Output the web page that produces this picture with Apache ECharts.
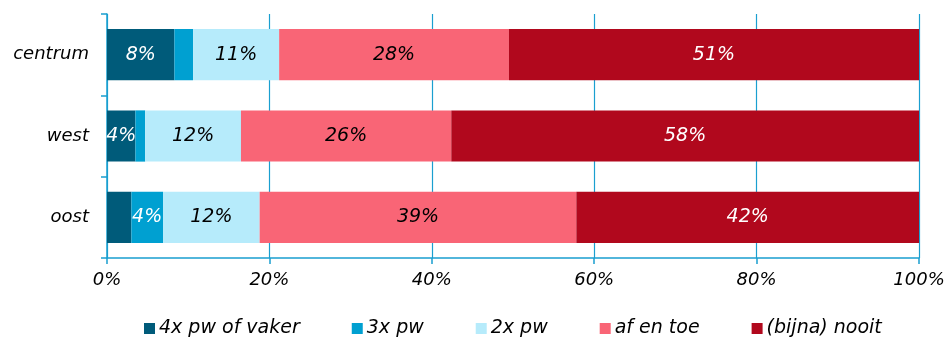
<!DOCTYPE html>
<html>
<head>
<meta charset="utf-8">
<script src="https://cdn.jsdelivr.net/npm/echarts@6/dist/echarts.min.js"></script>
<style>
  html, body { margin: 0; padding: 0; background: #fff; }
  #chart { width: 952px; height: 342px; }
</style>
</head>
<body>
<div id="chart"></div>
<script>
// Districts, top to bottom
const districts = ['centrum', 'west', 'oost'];

// Share of respondents per frequency class (%)
const perWeek4Plus = [8.3, 3.5, 3.0];
const perWeek3 = [2.3, 1.2, 3.9];
const perWeek2 = [10.6, 11.8, 11.9];
const nowAndThen = [28.3, 25.9, 39.0];
const hardlyEver = [50.5, 57.6, 42.2];

// Legend names and x-axis ticks
const seriesNames = ['4x pw of vaker', '3x pw', '2x pw', 'af en toe', '(bijna) nooit'];
const axisTicks = [0, 20, 40, 60, 80, 100];

const FONT = '"DejaVu Sans", Verdana, sans-serif';
const AXIS_BLUE = '#1a9fd0';

// Segments narrower than this stay unlabeled
const MIN_LABELED = 3.4;

const values = [perWeek4Plus, perWeek3, perWeek2, nowAndThen, hardlyEver];
const colors = ['#005b7a', '#00a0d1', '#b6ebfb', '#f96576', '#b1081d'];
const labelColors = ['#ffffff', '#ffffff', '#000000', '#000000', '#ffffff'];

const series = seriesNames.map((name, i) => ({
  name: name,
  type: 'bar',
  stack: 'total',
  barWidth: '63%',
  data: values[i],
  itemStyle: { color: colors[i] },
  label: {
    show: true,
    position: 'inside',
    color: labelColors[i],
    fontFamily: FONT,
    fontStyle: 'italic',
    fontSize: 19,
    formatter: p => (p.value < MIN_LABELED ? '' : Math.round(p.value) + '%')
  },
  emphasis: { disabled: true }
}));

const chart = echarts.init(document.getElementById('chart'), null, { renderer: 'canvas' });
chart.setOption({
  animation: false,
  backgroundColor: '#ffffff',
  grid: { left: 107, right: 33, top: 14, bottom: 84, containLabel: false },
  xAxis: {
    type: 'value',
    min: axisTicks[0],
    max: axisTicks[axisTicks.length - 1],
    interval: axisTicks[1] - axisTicks[0],
    axisLine: { show: true, lineStyle: { color: AXIS_BLUE, width: 1.5 } },
    axisTick: { show: true, length: 6, lineStyle: { color: AXIS_BLUE, width: 1.5 } },
    splitLine: { show: true, lineStyle: { color: AXIS_BLUE, width: 1.2 } },
    axisLabel: {
      margin: 13,
      color: '#000',
      fontFamily: FONT,
      fontStyle: 'italic',
      fontSize: 18,
      formatter: '{value}%'
    }
  },
  yAxis: {
    type: 'category',
    data: districts,
    inverse: true,
    axisLine: { show: true, lineStyle: { color: AXIS_BLUE, width: 1.5 } },
    axisTick: { show: true, length: 6, lineStyle: { color: AXIS_BLUE, width: 1.5 } },
    axisLabel: {
      margin: 18,
      color: '#000',
      fontFamily: FONT,
      fontStyle: 'italic',
      fontSize: 18
    }
  },
  legend: {
    top: 319,
    left: 144,
    padding: 0,
    itemWidth: 11,
    itemHeight: 11,
    itemGap: 52,
    icon: 'rect',
    textStyle: {
      color: '#000',
      fontFamily: FONT,
      fontStyle: 'italic',
      fontSize: 19,
      padding: [0, 0, 0, -1]
    },
    data: seriesNames
  },
  series: series
});
</script>
</body>
</html>
